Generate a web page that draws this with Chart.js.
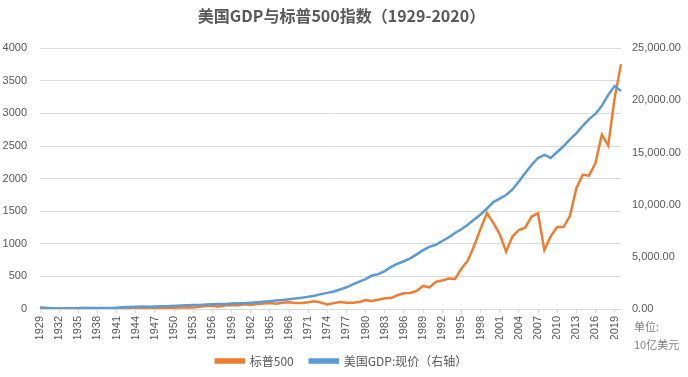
<!DOCTYPE html>
<html>
<head>
<meta charset="utf-8">
<script src="https://cdn.jsdelivr.net/npm/chart.js@4"></script>
<style>
  html, body { margin: 0; padding: 0; background: #fff; }
  #wrap { width: 688px; height: 377px; position: relative; }
</style>
</head>
<body>
<div id="wrap"><canvas id="gdpChart"></canvas></div>
<script>
// 年份 1929-2020
var years = [];
for (var y = 1929; y <= 2020; y++) years.push(String(y));

// 标普500 年末收盘
var sp500 = [21.45, 15.34, 8.12, 6.89, 10.10, 9.50, 13.43, 17.18, 10.55, 13.21,
  12.49, 10.58, 8.69, 9.77, 11.67, 13.28, 17.36, 15.30, 15.30, 15.20,
  16.76, 20.41, 23.77, 26.57, 24.81, 35.98, 45.48, 46.67, 39.99, 55.21,
  59.89, 58.11, 71.55, 63.10, 75.02, 84.75, 92.43, 80.33, 96.47, 103.86,
  92.06, 92.15, 102.09, 118.05, 97.55, 68.56, 90.19, 107.46, 95.10, 96.11,
  107.94, 135.76, 122.55, 140.64, 164.93, 167.24, 211.28, 242.17, 247.08, 277.72,
  353.40, 330.22, 417.09, 435.71, 466.45, 459.27, 615.93, 740.74, 970.43, 1229.23,
  1469.25, 1320.28, 1148.08, 879.82, 1111.92, 1211.92, 1248.29, 1418.30, 1468.36, 903.25,
  1115.10, 1257.64, 1257.60, 1426.19, 1848.36, 2058.90, 2043.94, 2238.83, 2673.61, 2506.85,
  3230.78, 3756.07];

// 美国GDP:现价（10亿美元）
var gdp = [104.6, 92.2, 77.4, 59.5, 57.2, 66.8, 74.2, 84.8, 93.0, 87.4,
  93.4, 102.9, 129.3, 166.0, 203.1, 224.4, 228.0, 227.5, 249.6, 274.5,
  272.5, 299.8, 346.9, 367.3, 389.2, 390.5, 425.5, 449.4, 474.0, 481.2,
  521.7, 542.4, 562.2, 603.9, 637.5, 684.5, 742.3, 813.4, 860.0, 940.7,
  1017.6, 1073.3, 1164.9, 1279.1, 1425.4, 1545.2, 1684.9, 1873.4, 2081.8, 2351.6,
  2627.3, 2857.3, 3207.0, 3343.8, 3634.0, 4037.6, 4339.0, 4579.6, 4855.2, 5236.4,
  5641.6, 5963.1, 6158.1, 6520.3, 6858.6, 7287.2, 7639.7, 8073.1, 8577.6, 9062.8,
  9631.2, 10251.0, 10581.9, 10929.1, 11456.5, 12217.2, 13039.2, 13815.6, 14474.2, 14769.9,
  14478.1, 15049.0, 15599.7, 16254.0, 16843.2, 17550.7, 18206.0, 18695.1, 19479.6, 20527.2,
  21372.6, 20893.7];

var textColor = '#595959';
var gridColor = '#d9d9d9';
var fontFamily = '"Liberation Sans", "Noto Sans CJK SC", sans-serif';
var cjkFont = '"Noto Sans CJK SC", sans-serif';

// 右下角单位
var unitLabel = {
  id: 'unitLabel',
  afterDraw: function (chart) {
    var ctx = chart.ctx;
    ctx.save();
    ctx.fillStyle = '#7f7f7f';
    ctx.font = '11px ' + cjkFont;
    ctx.textBaseline = 'middle';
    ctx.fillText('单位:', chart.chartArea.right + 13, 327);
    ctx.fillText('10亿美元', chart.chartArea.right + 13, 345);
    ctx.restore();
  }
};

new Chart(document.getElementById('gdpChart'), {
  type: 'line',
  data: {
    labels: years,
    datasets: [{
      label: '标普500',
      data: sp500,
      borderColor: '#ED7D31',
      backgroundColor: '#ED7D31',
      borderWidth: 2.5,
      pointRadius: 0,
      yAxisID: 'y',
      order: 1
    }, {
      label: '美国GDP:现价（右轴）',
      data: gdp,
      borderColor: '#5B9BD5',
      backgroundColor: '#5B9BD5',
      borderWidth: 2.5,
      pointRadius: 0,
      yAxisID: 'y1',
      order: 0
    }]
  },
  options: {
    responsive: true,
    maintainAspectRatio: false,
    animation: false,
    layout: { padding: { left: 2, right: 7, top: 0, bottom: 0 } },
    plugins: {
      title: {
        display: true,
        text: '美国GDP与标普500指数（1929-2020）',
        color: textColor,
        font: { family: cjkFont, size: 16, weight: 'bold' },
        padding: { top: 6, bottom: 23 }
      },
      legend: {
        position: 'bottom',
        labels: {
          color: textColor,
          font: { family: cjkFont, size: 12 },
          boxWidth: 28,
          boxHeight: 3,
          padding: 16,
          sort: function (a, b) { return a.datasetIndex - b.datasetIndex; }
        }
      },
      tooltip: { enabled: false }
    },
    scales: {
      x: {
        offset: false,
        afterFit: function (scale) { scale.height = 30; },
        grid: { drawOnChartArea: false, drawTicks: true, tickLength: 4, color: gridColor },
        border: { color: gridColor },
        ticks: {
          autoSkip: false,
          minRotation: 90,
          maxRotation: 90,
          padding: 3,
          color: textColor,
          font: { family: fontFamily, size: 11 },
          callback: function (val, i) { return i % 3 === 0 ? years[i] : null; }
        }
      },
      y: {
        position: 'left',
        min: 0,
        max: 4000,
        afterFit: function (scale) { scale.width = 38; },
        grid: { color: gridColor, drawTicks: false },
        border: { display: false },
        ticks: {
          stepSize: 500,
          padding: 13,
          color: textColor,
          font: { family: fontFamily, size: 11 },
          callback: function (v) { return String(v); }
        }
      },
      y1: {
        position: 'right',
        min: 0,
        max: 25000,
        afterFit: function (scale) { scale.width = 60; },
        grid: { drawOnChartArea: false, drawTicks: false },
        border: { display: false },
        ticks: {
          stepSize: 5000,
          padding: 11,
          color: textColor,
          font: { family: fontFamily, size: 11 },
          callback: function (v) {
            return v.toLocaleString('en-US', { minimumFractionDigits: 2, maximumFractionDigits: 2 });
          }
        }
      }
    }
  },
  plugins: [unitLabel]
});
</script>
</body>
</html>
